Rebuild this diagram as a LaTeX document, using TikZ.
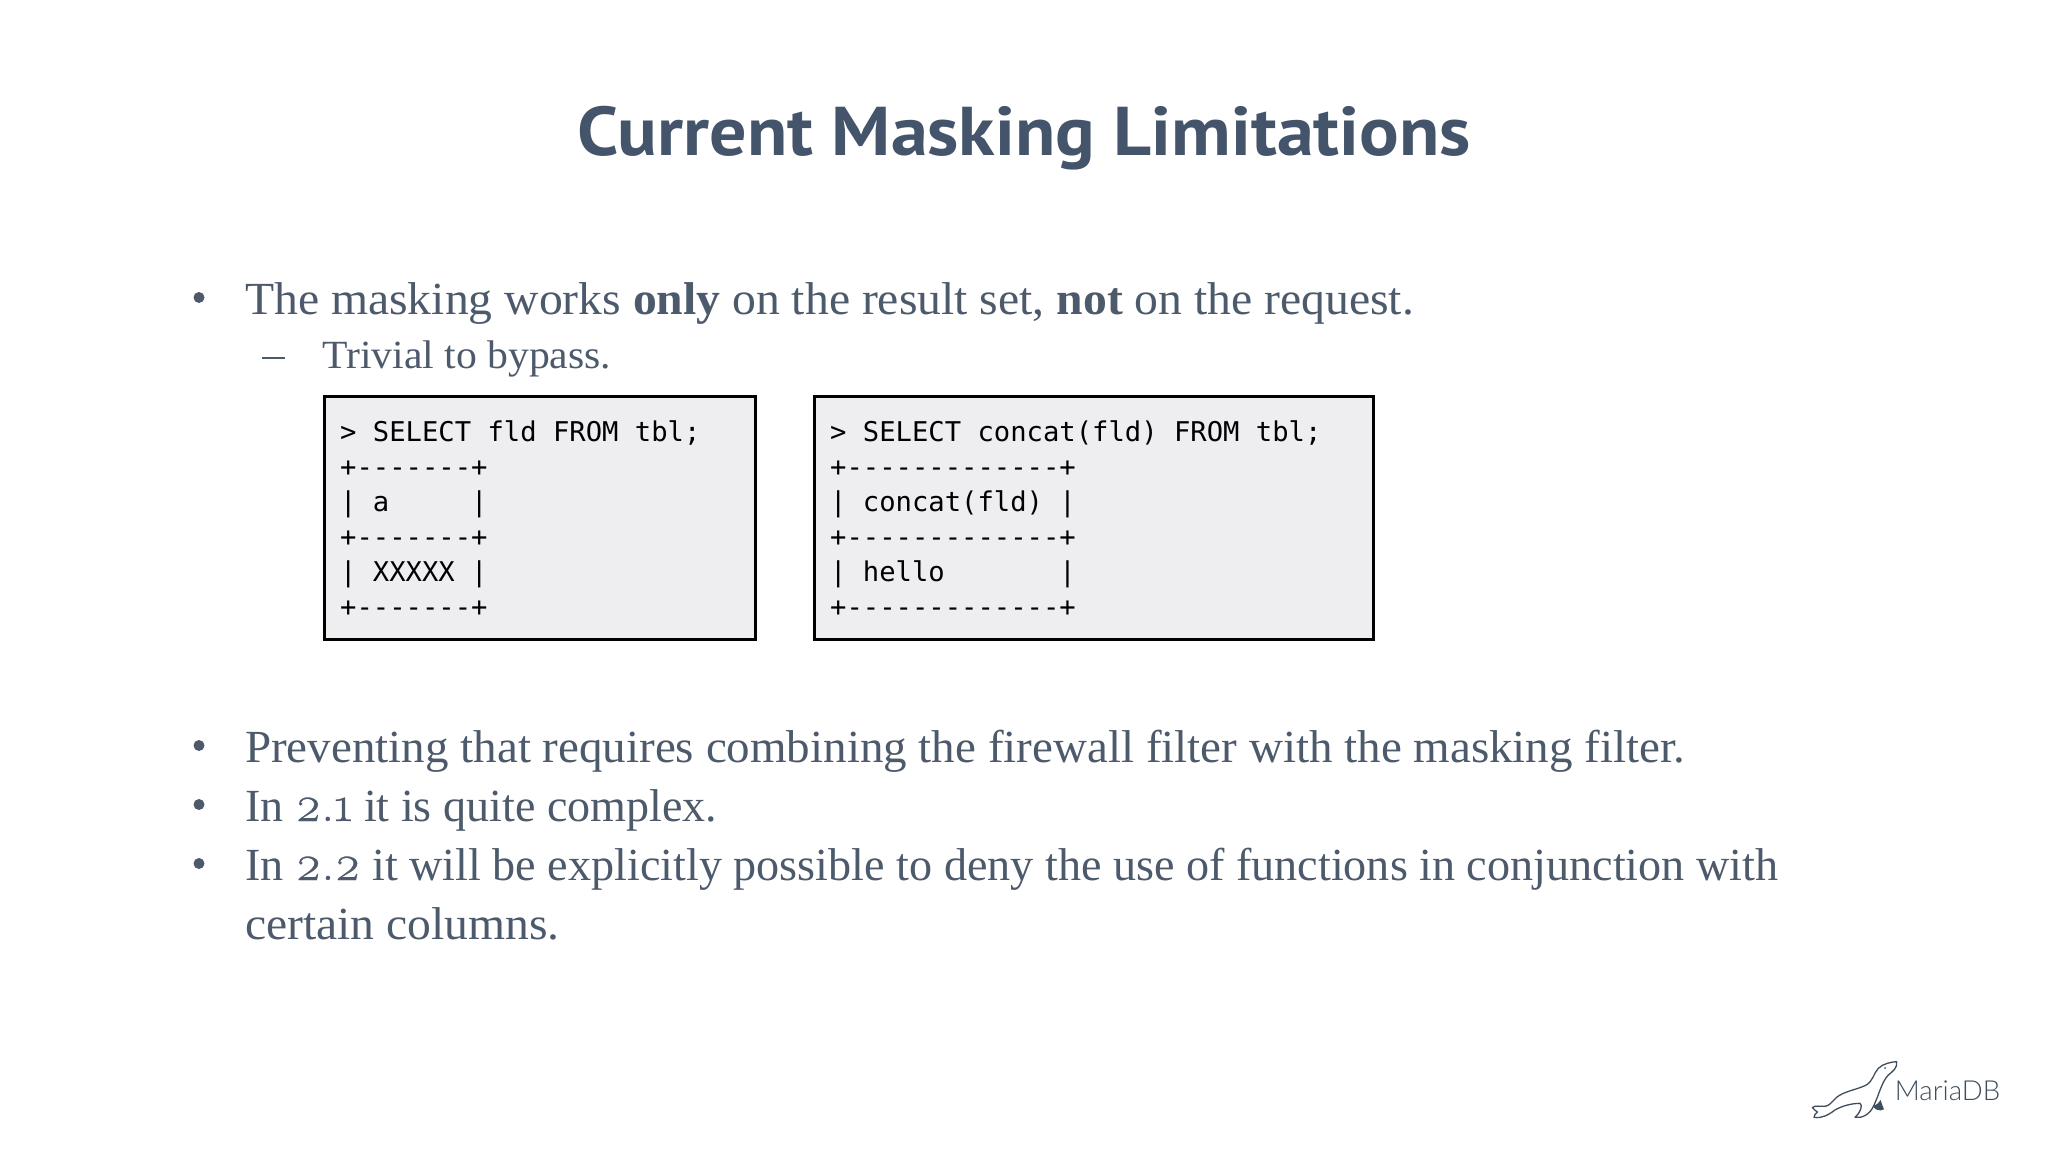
\documentclass[tikz,border=0pt]{standalone}
\usepackage{graphicx}
\usepackage{fontspec}
\setmainfont[FakeStretch=1.1]{Liberation Serif}
\newfontfamily\titlefont[FakeStretch=1.072]{PT Sans}
\newfontfamily\codefont{DejaVu Sans Mono}
\newfontfamily\logofont{Lato Light}
\newfontfamily\oldnum[Numbers=OldStyle,FakeStretch=1.1,FakeBold=0.5,Scale=1.1]{Latin Modern Roman}
\definecolor{slate}{HTML}{44546A}
\definecolor{bodytext}{HTML}{4D5A6C}
\definecolor{codefill}{HTML}{EEEDF0}
\definecolor{logoink}{HTML}{3F4D5C}
\newcommand{\squeeze}[2]{\scalebox{#1}[1]{#2}}
\tikzset{
  titletext/.style={anchor=base,font=\titlefont\bfseries\fontsize{69}{69}\selectfont,text=slate,inner sep=0},
  bodyline/.style={anchor=base west,font=\fontsize{46}{46}\selectfont,text=bodytext,inner sep=0},
  subline/.style={anchor=base west,font=\fontsize{40}{40}\selectfont,text=bodytext,inner sep=0},
  bulletmark/.style={circle,fill=bodytext,minimum size=11,inner sep=0},
  dashmark/.style={fill=bodytext,minimum width=23,minimum height=2.5,inner sep=0},
  codebox/.style={draw=black,fill=codefill,line width=3,inner sep=0},
  codeline/.style={anchor=base west,font=\codefont\fontsize{27.2}{27.2}\selectfont,text=black,inner sep=0},
  sealline/.style={draw=logoink,line width=1.3,fill=white,line join=round},
}
\begin{document}
\begin{tikzpicture}[x=1pt,y=-1pt]
\useasboundingbox (0,0) rectangle (2048,1153);
\fill[white] (0,0) rectangle (2048,1153);
\node[titletext] (title) at (1024,156) {Current Masking Limitations};

\node[bulletmark] (b1) at (199,297.5) {};
\node[bodyline] (l1) at (245,314) {\squeeze{0.942}{The masking works \textbf{only} on the result set, \textbf{not} on the request.}};
\node[dashmark] (d1) at (273,358) {};
\node[subline] (l2) at (322,368) {\squeeze{0.947}{Trivial to bypass.}};

\node[codebox,minimum width=431,minimum height=243,anchor=north west] (box1) at (323.3,395) {};
\node[codebox,minimum width=559,minimum height=243,anchor=north west] (box2) at (813.3,395) {};

\foreach \n/\y/\a/\b in {1/441/{> SELECT fld FROM tbl;}/{> SELECT concat(fld) FROM tbl;},
  2/476/{+-{}-{}-{}-{}-{}-{}-+}/{+-{}-{}-{}-{}-{}-{}-{}-{}-{}-{}-{}-{}-+},
  3/511/{|~a~~~~~|}/{|~concat(fld)~|},
  4/546/{+-{}-{}-{}-{}-{}-{}-+}/{+-{}-{}-{}-{}-{}-{}-{}-{}-{}-{}-{}-{}-+},
  5/581/{|~XXXXX~|}/{|~hello~~~~~~~|},
  6/616/{+-{}-{}-{}-{}-{}-{}-+}/{+-{}-{}-{}-{}-{}-{}-{}-{}-{}-{}-{}-{}-+}}{
  \node[codeline] (ca\n) at (340,\y) {\a};
  \node[codeline] (cb\n) at (830,\y) {\b};
}

\node[bulletmark] (b2) at (199,745.5) {};
\node[bodyline] (l3) at (245,762) {\squeeze{0.929}{Preventing that requires combining the firewall filter with the masking filter.}};
\node[bulletmark] (b3) at (199,804.5) {};
\node[bodyline] (l4) at (245,821) {\squeeze{0.91}{In {\oldnum 2.1} it is quite complex.}};
\node[bulletmark] (b4) at (199,863.5) {};
\node[bodyline] (l5) at (245,880) {\squeeze{0.912}{In {\oldnum 2.2} it will be explicitly possible to deny the use of functions in conjunction with}};
\node[bodyline] (l6) at (245,939) {\squeeze{0.941}{certain columns.}};

\begin{scope}[shift={(1780,1040)},x=0.3333pt,y=-0.3333pt]
\draw[sealline] (350,65) .. controls (335,66) and (310,70) .. (295,85)
  .. controls (280,100) and (280,125) .. (255,137)
  .. controls (225,150) and (190,155) .. (170,172)
  .. controls (155,185) and (150,197) .. (135,199)
  .. controls (120,200) and (105,195) .. (97,203)
  .. controls (100,210) and (110,212) .. (112,216)
  .. controls (108,222) and (100,226) .. (102,232)
  .. controls (125,236) and (145,225) .. (165,210)
  .. controls (185,198) and (215,190) .. (240,190)
  .. controls (250,195) and (240,220) .. (225,232)
  .. controls (245,235) and (270,225) .. (282,195)
  .. controls (295,170) and (305,125) .. (325,105)
  .. controls (340,92) and (352,85) .. (350,65) -- cycle;
\fill[logoink] (279,197) .. controls (290,195) and (298,188) .. (302,180) .. controls (305,190) and (308,200) .. (312,208) .. controls (300,214) and (285,212) .. (279,197) -- cycle;
\fill[logoink] (315,84) circle (3);
\node[anchor=base west,inner sep=0,text=logoink,font=\logofont\fontsize{27.6}{27.6}\selectfont] (logo) at (344,180) {MariaDB};
\end{scope}
\end{tikzpicture}
\end{document}
